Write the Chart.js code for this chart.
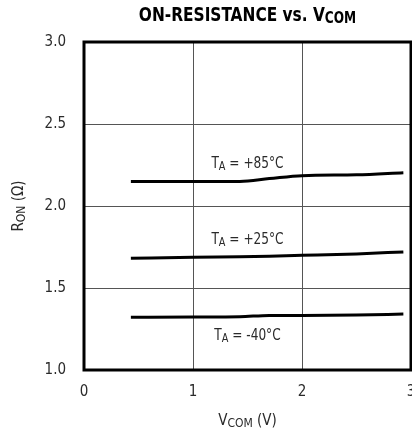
<!DOCTYPE html>
<html>
<head>
<meta charset="utf-8">
<script src="https://cdn.jsdelivr.net/npm/chart.js@4/dist/chart.umd.min.js"></script>
<style>
  html, body { margin: 0; padding: 0; background: #fff; }
  canvas { display: block; }
</style>
</head>
<body>
<canvas id="ronChart" width="412" height="436"></canvas>
<script>
// data
var vcom = [0.43, 1.0, 1.43, 1.7, 2.0, 2.5, 2.93];
var ron85 = [2.150, 2.150, 2.150, 2.167, 2.185, 2.190, 2.203];
var ron25 = [1.681, 1.688, 1.691, 1.694, 1.699, 1.708, 1.720];
var ronM40 = [1.321, 1.323, 1.325, 1.333, 1.333, 1.335, 1.341];

var xTicks = [0, 1, 2, 3];
var yTicks = [1.0, 1.5, 2.0, 2.5, 3.0];

// curve labels: text, where they sit in data coordinates
var curveLabels = [
  { main: 'T', sub: 'A', rest: ' = +85°C', x: 1.5, y: 2.256 },
  { main: 'T', sub: 'A', rest: ' = +25°C', x: 1.5, y: 1.793 },
  { main: 'T', sub: 'A', rest: ' = -40°C', x: 1.5, y: 1.207 }
];

var FONT = '"Liberation Sans Narrow", "DejaVu Sans Condensed", "Roboto Condensed", Arial, sans-serif';

function toPoints(xs, ys) {
  return xs.map(function(x, i) { return { x: x, y: ys[i] }; });
}

// draws "main" + smaller lowered "sub" + "rest", centered on x, middle on y
// sx squeezes the text horizontally (narrow look)
function drawSubText(ctx, main, sub, rest, x, y, size, subSize, weight, sx) {
  var w = weight || 'normal';
  sx = sx || 1;
  ctx.save();
  ctx.translate(x, y);
  ctx.scale(sx, 1);
  ctx.font = w + ' ' + size + 'px ' + FONT;
  var w1 = ctx.measureText(main).width;
  var w3 = ctx.measureText(rest).width;
  ctx.font = w + ' ' + subSize + 'px ' + FONT;
  var w2 = ctx.measureText(sub).width;
  var start = -(w1 + w2 + w3) / 2;
  ctx.textBaseline = 'middle';
  ctx.textAlign = 'left';
  ctx.font = w + ' ' + size + 'px ' + FONT;
  ctx.fillText(main, start, 0);
  ctx.font = w + ' ' + subSize + 'px ' + FONT;
  ctx.fillText(sub, start + w1, size * 0.18);
  ctx.font = w + ' ' + size + 'px ' + FONT;
  ctx.fillText(rest, start + w1 + w2, 0);
  ctx.restore();
}

var framePlugin = {
  id: 'frame',
  afterDatasetsDraw: function(chart) {
    var ctx = chart.ctx;
    var a = chart.chartArea;
    ctx.save();
    ctx.strokeStyle = '#000';
    ctx.lineWidth = 3;
    ctx.strokeRect(a.left, a.top, a.right - a.left, a.bottom - a.top);
    ctx.restore();
  },
  afterDraw: function(chart) {
    var ctx = chart.ctx;
    var a = chart.chartArea;
    var xs = chart.scales.x, ys = chart.scales.y;
    var cx = (a.left + a.right) / 2;
    ctx.save();
    ctx.fillStyle = '#000';
    // title
    drawSubText(ctx, 'ON-RESISTANCE vs. V', 'COM', '', cx, 16, 19, 15, 'bold', 0.9);
    ctx.fillStyle = '#2a2a2a';
    // x axis title
    drawSubText(ctx, 'V', 'COM', ' (V)', cx, 421, 15, 12);
    // y axis title, rotated
    ctx.save();
    ctx.translate(19, (a.top + a.bottom) / 2);
    ctx.rotate(-Math.PI / 2);
    drawSubText(ctx, 'R', 'ON', ' (Ω)', 0, 0, 15, 12);
    ctx.restore();
    // curve labels
    curveLabels.forEach(function(l) {
      drawSubText(ctx, l.main, l.sub, l.rest, xs.getPixelForValue(l.x), ys.getPixelForValue(l.y), 15, 12, 'normal', 0.9);
    });
    ctx.restore();
  }
};

var lineStyle = {
  borderColor: '#000',
  borderWidth: 3,
  pointRadius: 0,
  fill: false,
  tension: 0.3,
  cubicInterpolationMode: 'monotone'
};

new Chart(document.getElementById('ronChart').getContext('2d'), {
  type: 'line',
  data: {
    datasets: [
      Object.assign({ label: '+85', data: toPoints(vcom, ron85) }, lineStyle),
      Object.assign({ label: '+25', data: toPoints(vcom, ron25) }, lineStyle),
      Object.assign({ label: '-40', data: toPoints(vcom, ronM40) }, lineStyle)
    ]
  },
  options: {
    responsive: false,
    animation: false,
    devicePixelRatio: 1,
    layout: { padding: { top: 42, right: 1, left: 0, bottom: 0 } },
    plugins: {
      legend: { display: false },
      title: { display: false },
      tooltip: { enabled: false }
    },
    scales: {
      x: {
        type: 'linear',
        min: 0,
        max: 3,
        afterBuildTicks: function(s) { s.ticks = xTicks.map(function(v) { return { value: v }; }); },
        ticks: {
          color: '#2a2a2a',
          font: { family: FONT, size: 15 },
          padding: 13,
          maxRotation: 0,
          callback: function(v) { return String(v); }
        },
        grid: { color: '#555', lineWidth: 1, drawTicks: false },
        border: { display: false },
        afterFit: function(s) { s.height = 66; s.paddingLeft = 0; s.paddingRight = 0; }
      },
      y: {
        min: 1,
        max: 3,
        afterBuildTicks: function(s) { s.ticks = yTicks.map(function(v) { return { value: v }; }); },
        ticks: {
          color: '#2a2a2a',
          font: { family: FONT, size: 15 },
          padding: 18,
          callback: function(v) { return Number(v).toFixed(1); }
        },
        grid: { color: '#555', lineWidth: 1, drawTicks: false },
        border: { display: false },
        afterFit: function(s) { s.width = 84; s.paddingTop = 0; s.paddingBottom = 0; }
      }
    }
  },
  plugins: [framePlugin]
});
</script>
</body>
</html>
